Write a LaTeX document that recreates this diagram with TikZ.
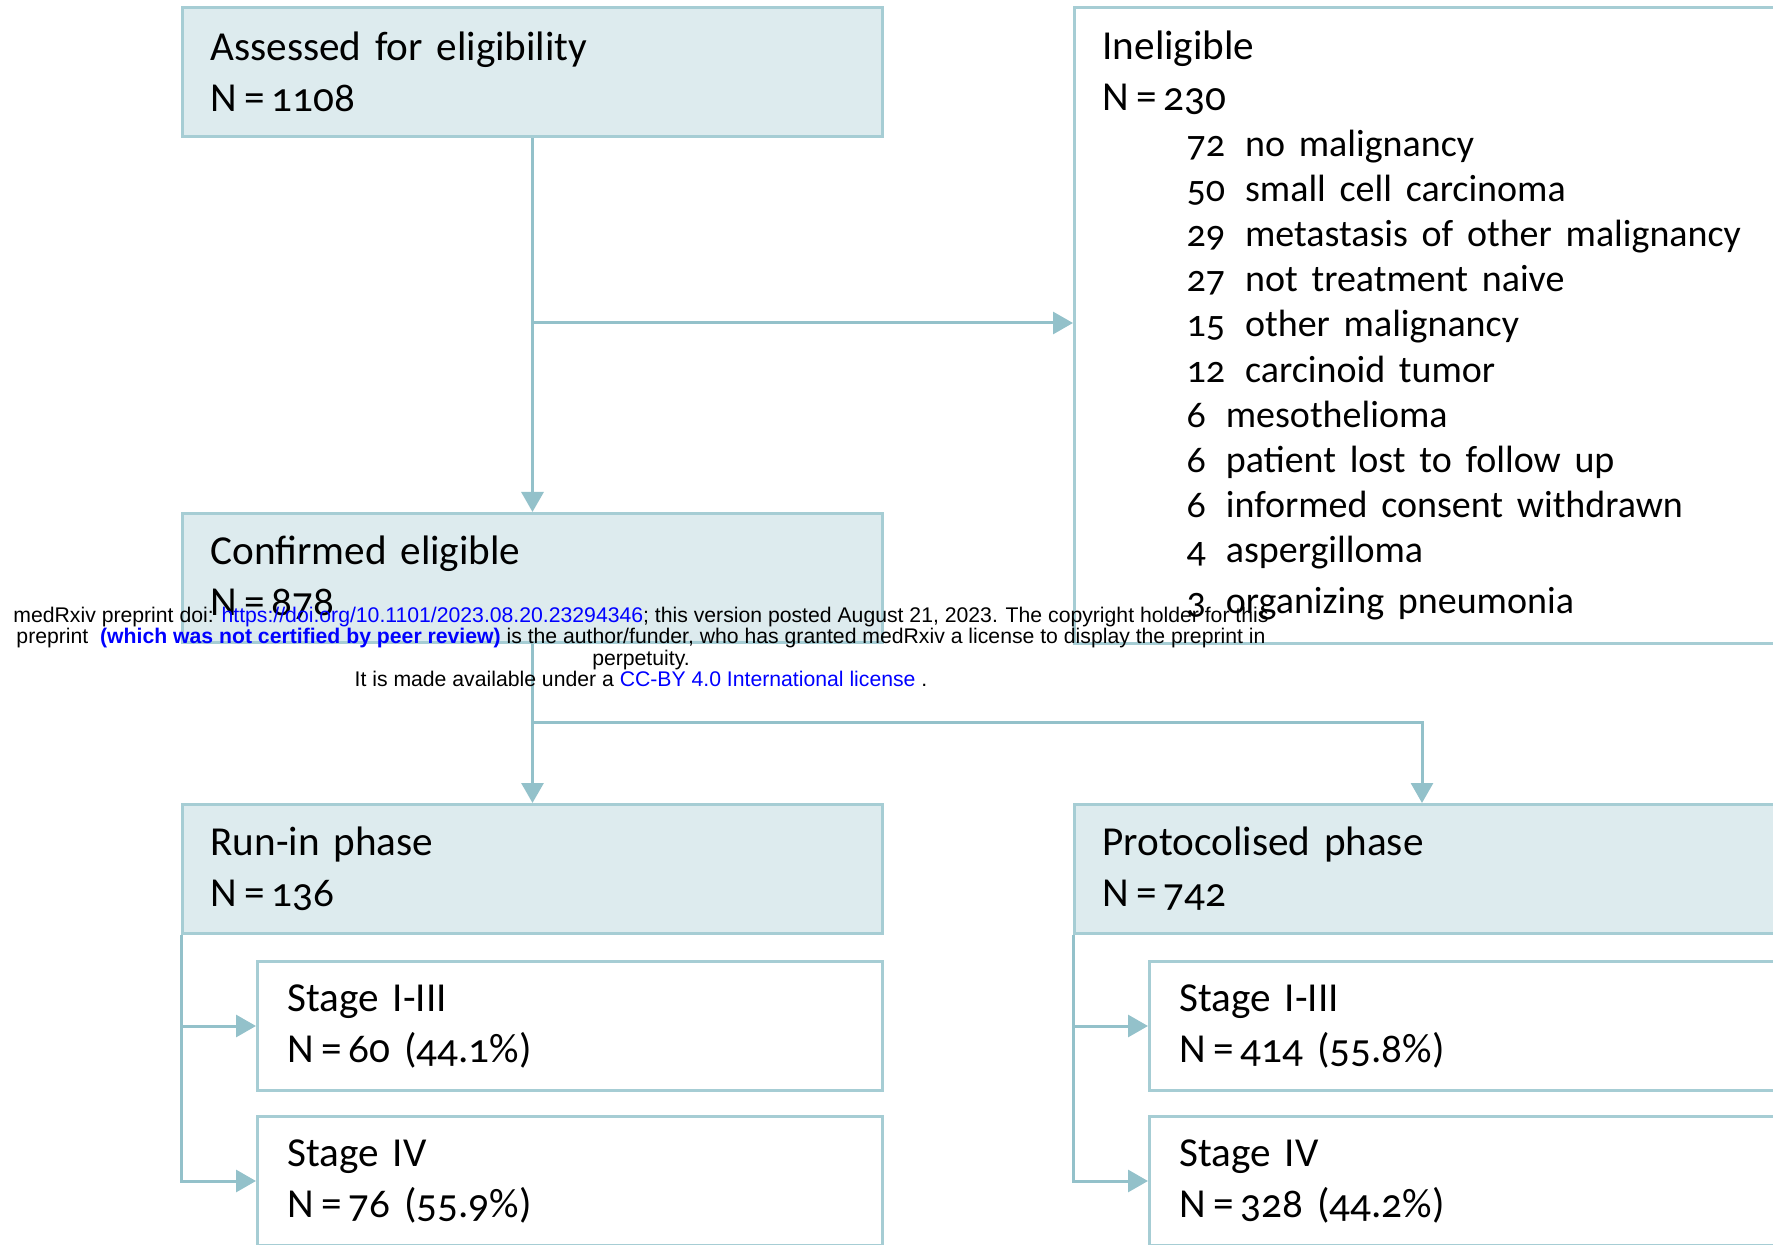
\documentclass[tikz,border=0pt]{standalone}
\usepackage{fontspec}
\setmainfont{Carlito}[Numbers=OldStyle]
\newfontfamily\wmfont{Liberation Sans}
\usetikzlibrary{arrows.meta,positioning}
\definecolor{boxfill}{HTML}{DDEBEE}
\definecolor{boxline}{HTML}{A6CDD4}
\definecolor{flowline}{HTML}{93C1CA}
\definecolor{linkblue}{HTML}{0000FF}
\def\Neq{N\kern3.5pt=\kern3.5pt}
\def\listfont{\fontsize{19}{22.6}\selectfont}
\tikzset{
    phasebox/.style={draw=boxline, line width=1.5pt, fill=boxfill, anchor=north west,
                     minimum height=64.5pt, inner xsep=14pt, inner ysep=0pt, align=left,
                     font=\fontsize{20.6}{25.5}\selectfont},
    stagebox/.style={phasebox, fill=white, inner xsep=15pt},
    flow/.style={flowline, line width=1.5pt, -{Triangle[width=11pt,length=10pt]}},
}
\begin{document}
\begin{tikzpicture}[x=0.5pt, y=-0.5pt]
        % Marco
        \useasboundingbox (0,0) rectangle (1773,1245);
        \clip (0,0) rectangle (1773,1245);
        % Cajas principales
        \node[phasebox, text width=322pt] (assess) at (181,6) {Assessed for eligibility\\\Neq 1108};
        \node[phasebox, fill=white, text width=324pt, minimum height=318pt] (inelig) at (1073,6)
            {Ineligible\\\Neq 230\\[0.4pt]\listfont
             \hspace*{42pt}72\,\ no malignancy\\
             \hspace*{42pt}50\,\ small cell carcinoma\\
             \hspace*{42pt}29\,\ metastasis of other malignancy\\
             \hspace*{42pt}27\,\ not treatment naive\\
             \hspace*{42pt}15\,\ other malignancy\\
             \hspace*{42pt}12\,\ carcinoid tumor\\
             \hspace*{42pt}6\,\ mesothelioma\\
             \hspace*{42pt}6\,\ patient lost to follow up\\
             \hspace*{42pt}6\,\ informed consent withdrawn\\
             \hspace*{42pt}4\,\ aspergilloma\\
             \hspace*{42pt}3\,\ organizing pneumonia};
        \node[phasebox, text width=322pt] (confirm) at (181,512) {Confirmed eligible\\\Neq 878};
        \node[phasebox, text width=322pt] (runin) at (181,803) {Run-in phase\\\Neq 136};
        \node[phasebox, text width=324pt] (proto) at (1073,803) {Protocolised phase\\\Neq 742};
        % Cajas de estadio
        \node[stagebox, text width=282.5pt] (stageAl) at (256,960) {Stage I-III\\\Neq 60 (44.1\%)};
        \node[stagebox, text width=282.5pt] (stageBl) at (256,1115) {Stage IV\\\Neq 76 (55.9\%)};
        \node[stagebox, text width=286pt] (stageAr) at (1148,960) {Stage I-III\\\Neq 414 (55.8\%)};
        \node[stagebox, text width=286pt] (stageBr) at (1148,1115) {Stage IV\\\Neq 328 (44.2\%)};
        % Flechas
        \coordinate (split1) at (assess.south |- 0,323);
        \coordinate (split2) at (confirm.south |- 0,723);
        \coordinate (protoin) at (1422,803);
        \draw[flow] (assess.south) -- (confirm.north);
        \draw[flow] (split1) -- (split1 -| inelig.west);
        \draw[flow] (confirm.south) -- (runin.north);
        \draw[flow] (split2) -| (protoin);
        \draw[flow] (runin.south west) |- (stageBl.west);
        \draw[flow] (runin.south west |- stageAl.west) -- (stageAl.west);
        \draw[flow] (proto.south west) |- (stageBr.west);
        \draw[flow] (proto.south west |- stageAr.west) -- (stageAr.west);
        % Aviso medRxiv
        \node[font=\wmfont\fontsize{10.6}{10.6}\selectfont, align=center, inner sep=0pt] (notice) at (641,647)
            {medRxiv preprint doi: \textcolor{linkblue}{https://doi.org/10.1101/2023.08.20.23294346}; this version posted August 21, 2023. The copyright holder for this\\
             preprint\ \ \textcolor{linkblue}{\textbf{(which was not certified by peer review)}} is the author/funder, who has granted medRxiv a license to display the preprint in\\
             perpetuity.\\
             It is made available under a \textcolor{linkblue}{CC-BY 4.0 International license} .};
    \end{tikzpicture}
\end{document}
